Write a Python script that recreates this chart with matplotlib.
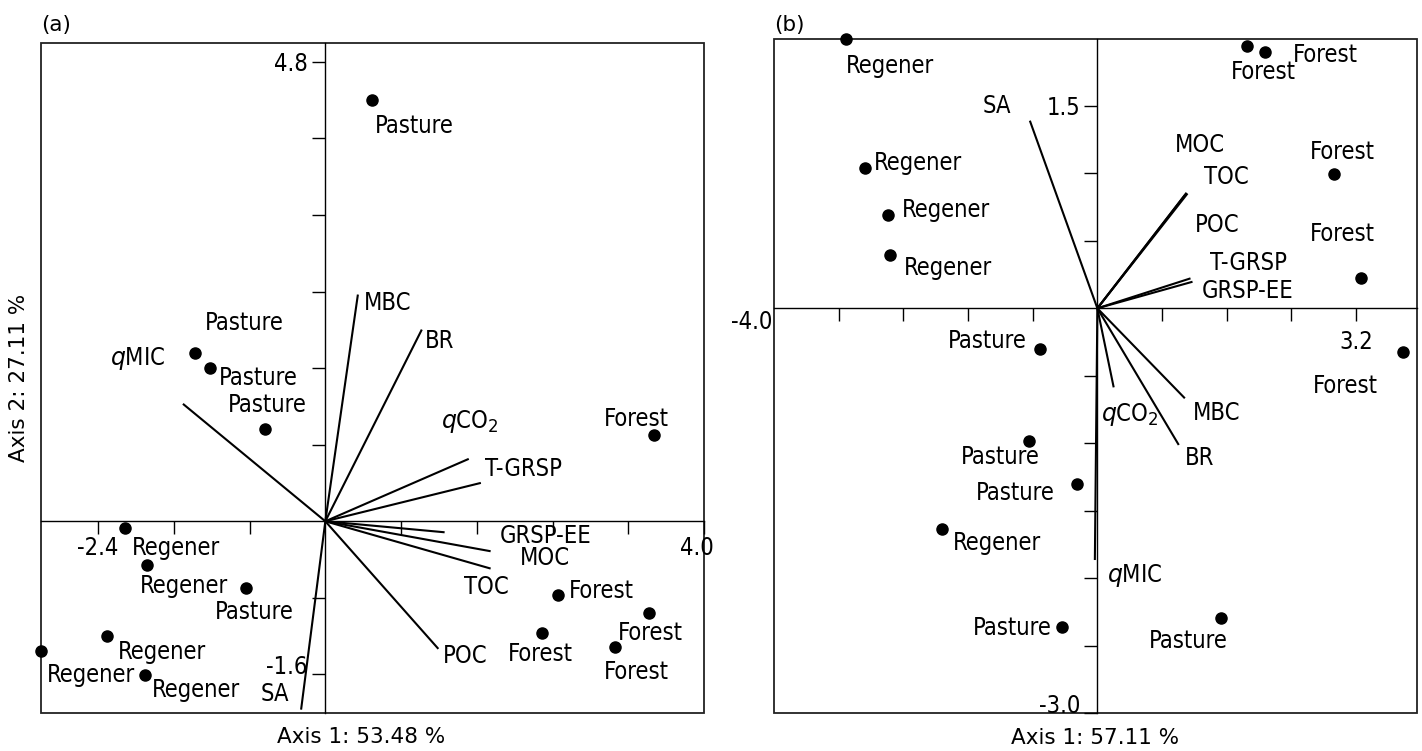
import matplotlib.pyplot as plt
from matplotlib.patches import Rectangle
from matplotlib.transforms import ScaledTranslation

plt.rcParams['font.family'] = 'DejaVu Sans'
plt.rcParams['axes.unicode_minus'] = False
plt.rcParams['mathtext.fontset'] = 'dejavusans'

# panel (a) - site scores
a_sites = ['Pasture', 'Pasture', 'Pasture', 'Pasture', 'Forest', 'Regener', 'Regener', 'Pasture',
           'Forest', 'Forest', 'Forest', 'Forest', 'Regener', 'Regener', 'Regener']
a_x = [0.495, -1.381, -1.220, -0.639, 3.476, -2.113, -1.881, -0.833,
       2.460, 3.415, 2.286, 3.060, -2.311, -3.001, -1.901]
a_y = [4.406, 1.760, 1.603, 0.969, 0.903, -0.069, -0.452, -0.700,
       -0.766, -0.954, -1.166, -1.317, -1.202, -1.351, -1.602]
# panel (a) - variable vectors
a_vars = ['MBC', 'BR', r'$q$MIC', r'$q$CO$_2$', 'T-GRSP', 'GRSP-EE', 'MOC', 'TOC', 'POC', 'SA']
a_vx = [0.344, 1.019, -1.504, 1.515, 1.643, 1.260, 1.746, 1.746, 1.194, -0.256]
a_vy = [2.369, 2.003, 1.227, 0.652, 0.401, -0.115, -0.313, -0.494, -1.333, -1.968]

# panel (b) - site scores
b_sites = ['Regener', 'Forest', 'Forest', 'Regener', 'Regener', 'Regener', 'Forest', 'Forest',
           'Pasture', 'Forest', 'Pasture', 'Pasture', 'Regener', 'Pasture', 'Pasture']
b_x = [-3.107, 1.856, 2.079, -2.871, -2.585, -2.567, 2.928, 3.266,
       -0.714, 3.778, -0.846, -0.255, -1.924, -0.434, 1.534]
b_y = [1.996, 1.947, 1.898, 1.042, 0.692, 0.395, 0.993, 0.222,
       -0.302, -0.326, -0.984, -1.305, -1.634, -2.360, -2.298]
# panel (b) - variable vectors
b_vars = ['SA', 'MOC', 'TOC', 'POC', 'T-GRSP', 'GRSP-EE', r'$q$CO$_2$', 'MBC', 'BR', r'$q$MIC']
b_vx = [-0.835, 1.103, 1.115, 1.090, 1.152, 1.177, 0.202, 1.082, 1.007, -0.031]
b_vy = [1.391, 0.857, 0.851, 0.844, 0.222, 0.197, -0.586, -0.667, -1.013, -1.866]

# label placement (pixels, relative to the point / arrow tip)
a_site_off = [(42, -26), (50, 30), (48, -10), (2, 24), (-18, 16), (51, -20), (37, -21), (8, -24),
              (43, 4), (2, -20), (-1, -21), (21, -25), (55, -16), (50, -24), (51, -15)]
a_var_off = [(30, -8), (18, -11), (-45, 45), (1, 37), (43, 14), (101, -4), (54, -7), (-4, -18),
             (27, -7), (-26, 16)]
b_site_off = [(44, -27), (16, -26), (60, -3), (53, 5), (58, 5), (58, -13), (8, 22), (-19, 44),
              (-52, 8), (-57, -34), (-29, -16), (-61, -9), (55, -14), (-50, -1), (-33, -23)]
b_var_off = [(-33, 15), (13, 48), (39, 17), (32, -31), (58, 15), (55, -9), (16, -27), (32, -15),
             (21, -13), (40, -15)]

LABEL_SIZE = 17


def biplot(ax, sx, sy, sites, site_off, vx, vy, vars_, var_off):
    for x, y in zip(vx, vy):
        ax.plot([0, x], [0, y], color='black', lw=1.5, solid_capstyle='butt')
    ax.plot(sx, sy, 'o', color='black', markersize=8, clip_on=False, zorder=3)
    for x, y, name, off in zip(sx, sy, sites, site_off):
        ax.annotate(name, (x, y), xytext=off, textcoords='offset pixels',
                    ha='center', va='center', fontsize=LABEL_SIZE, fontstretch='condensed',
                    annotation_clip=False)
    for x, y, name, off in zip(vx, vy, vars_, var_off):
        ax.annotate(name, (x, y), xytext=off, textcoords='offset pixels',
                    ha='center', va='center', fontsize=LABEL_SIZE, fontstretch='condensed',
                    annotation_clip=False)
    # axes through the origin plus a box frame
    for side in ['top', 'right']:
        ax.spines[side].set_visible(False)
    for side in ['left', 'bottom']:
        ax.spines[side].set_position(('data', 0))
        ax.spines[side].set_linewidth(1.0)
    ax.add_patch(Rectangle((0, 0), 1, 1, transform=ax.transAxes, fill=False,
                           lw=1.3, edgecolor='#222222', clip_on=False))
    ax.tick_params(direction='out', length=9.5, width=1.0, labelsize=LABEL_SIZE)


def condense_ticks(ax):
    for lab in ax.get_xticklabels() + ax.get_yticklabels():
        lab.set_fontstretch('condensed')
    # lowest y label sits on its tick, as in the original
    ax.get_yticklabels()[0].set_verticalalignment('baseline')


fig = plt.figure(figsize=(14.22, 7.51), dpi=100)
ax1 = fig.add_axes([0.02904, 0.0510, 0.46606, 0.8921])
ax2 = fig.add_axes([0.5443, 0.0506, 0.45197, 0.8981])

# (a)
biplot(ax1, a_x, a_y, a_sites, a_site_off, a_vx, a_vy, a_vars, a_var_off)
ax1.set_xlim(-3.0, 4.0)
ax1.set_ylim(-2.0, 5.0)
ax1.set_xticks([-2.4, -1.6, -0.8, 0.8, 1.6, 2.4, 3.2, 4.0],
               ['-2.4', '', '', '', '', '', '', '4.0'])
ax1.set_yticks([-1.6, -0.8, 0.8, 1.6, 2.4, 3.2, 4.0, 4.8],
               ['-1.6', '', '', '', '', '', '', '4.8'])
ax1.tick_params(axis='x', pad=1)
ax1.tick_params(axis='y', pad=3)
condense_ticks(ax1)
# nudge the "4.0" label a little left, off the frame edge
lab = ax1.get_xticklabels()[-1]
lab.set_transform(lab.get_transform() + ScaledTranslation(-0.07, 0, fig.dpi_scale_trans))
ax1.set_xlabel('Axis 1: 53.48 %', fontsize=15.5)
ax1.xaxis.set_label_coords(0.482, -0.022)
ax1.set_ylabel('Axis 2: 27.11 %', fontsize=15.5)
ax1.yaxis.set_label_coords(-0.018, 0.5)
ax1.annotate('(a)', (0, 1), xycoords='axes fraction', xytext=(0, 8), textcoords='offset pixels',
             ha='left', va='bottom', fontsize=15.5)

# (b)
biplot(ax2, b_x, b_y, b_sites, b_site_off, b_vx, b_vy, b_vars, b_var_off)
ax2.set_xlim(-4.0, 3.95)
ax2.set_ylim(-3.0, 2.0)
ax2.set_xticks([-3.2, -2.4, -1.6, -0.8, 0.8, 1.6, 2.4, 3.2],
               ['', '', '', '', '', '', '', '3.2'])
ax2.set_yticks([-3.0, -2.5, -2.0, -1.5, -1.0, -0.5, 0.5, 1.0, 1.5],
               ['-3.0', '', '', '', '', '', '', '', '1.5'])
ax2.tick_params(axis='x', pad=6)
ax2.tick_params(axis='y', pad=3)
condense_ticks(ax2)
ax2.annotate('-4.0', (0, 0), xycoords=('axes fraction', 'data'), xytext=(-2, -14),
             textcoords='offset pixels', ha='right', va='center', fontsize=LABEL_SIZE,
             fontstretch='condensed', annotation_clip=False)
ax2.set_xlabel('Axis 1: 57.11 %', fontsize=15.5)
ax2.xaxis.set_label_coords(0.5, -0.022)
ax2.annotate('(b)', (0, 1), xycoords='axes fraction', xytext=(0, 4), textcoords='offset pixels',
             ha='left', va='bottom', fontsize=15.5)

fig.savefig('out.png', dpi=100)
